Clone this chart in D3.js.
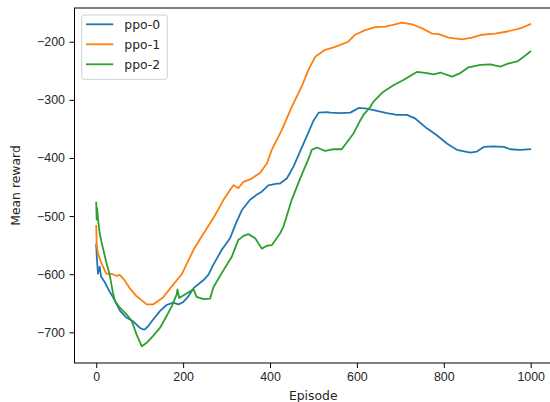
<!DOCTYPE html>
<html>
<head>
<meta charset="utf-8">
<script src="https://d3js.org/d3.v7.min.js"></script>
<style>
  body { margin: 0; background: #fff; }
  svg { font-family: "DejaVu Sans", sans-serif; }
  .axis text { font-size: 12.4px; fill: #262626; }
  .axis path { display: none; }
  .axis line { stroke: #000; stroke-width: 1; }
</style>
</head>
<body>
<svg width="550" height="402"></svg>
<script>

// series names and colours
var seriesNames = ["ppo-0", "ppo-1", "ppo-2"];
var seriesColors = ["#1f77b4", "#ff7f0e", "#2ca02c"];

// tick labels
var xTicks = [0, 200, 400, 600, 800, 1000];
var yTicks = [-700, -600, -500, -400, -300, -200];

// ppo-0 (episode, mean reward)
var ppo0 = [
  [0, -549], [1, -567], [4, -599], [8, -587], [11, -604], [19, -613], [31, -630],
  [39, -640], [55, -663], [70, -675], [85, -681], [100, -692], [108, -695], [112, -695],
  [120, -689], [131, -678], [147, -663], [162, -653], [177, -649], [189, -652],
  [200, -648], [212, -638], [224, -624], [247, -610], [258, -601], [270, -583],
  [289, -558], [308, -538], [323, -510], [335, -490], [354, -472], [370, -463],
  [381, -458], [396, -447], [416, -444], [423, -444], [439, -435], [454, -415],
  [469, -389], [485, -362], [500, -336], [512, -322], [531, -321], [539, -322],
  [561, -323], [585, -322], [604, -314], [623, -315], [646, -319], [669, -323],
  [692, -326], [715, -326], [734, -332], [761, -349], [784, -361], [807, -375],
  [830, -386], [861, -391], [876, -389], [892, -381], [915, -380], [938, -381],
  [953, -385], [976, -386], [999, -385]
];

// ppo-1
var ppo1 = [
  [0, -517], [1, -550], [4, -564], [11, -579], [23, -599], [38, -600], [47, -603],
  [54, -601], [65, -610], [77, -624], [93, -638], [105, -645], [116, -652], [131, -652],
  [142, -646], [154, -640], [162, -632], [178, -617], [197, -600], [224, -558],
  [247, -530], [270, -503], [293, -472], [308, -455], [316, -447], [327, -452],
  [339, -441], [354, -437], [377, -426], [393, -409], [404, -386], [412, -374],
  [427, -352], [450, -312], [473, -277], [488, -249], [504, -226], [527, -214],
  [550, -209], [580, -200], [596, -188], [619, -180], [642, -175], [665, -174],
  [688, -170], [704, -167], [727, -170], [750, -177], [773, -186], [788, -187],
  [811, -193], [842, -196], [865, -193], [888, -188], [918, -186], [949, -182],
  [980, -176], [999, -170]
];

// ppo-2
var ppo2 = [
  [0, -477], [1, -506], [2, -486], [4, -504], [8, -530], [12, -544], [23, -579],
  [31, -601], [38, -630], [43, -646], [55, -658], [70, -669], [82, -681], [93, -704],
  [105, -724], [116, -718], [131, -706], [147, -692], [162, -672], [174, -655],
  [185, -635], [187, -626], [191, -641], [204, -635], [224, -626], [231, -639],
  [247, -643], [262, -642], [270, -622], [293, -593], [312, -570], [327, -541],
  [339, -534], [350, -531], [366, -538], [381, -556], [393, -551], [404, -550],
  [423, -530], [431, -518], [450, -472], [469, -436], [492, -395], [496, -386],
  [508, -382], [527, -388], [546, -385], [565, -385], [581, -369], [592, -358],
  [608, -335], [615, -326], [631, -312], [638, -303], [661, -286], [684, -275],
  [707, -266], [738, -252], [761, -254], [777, -256], [792, -253], [819, -260],
  [838, -254], [857, -244], [884, -240], [907, -239], [930, -243], [946, -238],
  [969, -234], [984, -226], [999, -217]
];

var allSeries = [ppo0, ppo1, ppo2];

var svg = d3.select("svg");

// axes box
var box = {left: 74.5, top: 8, right: 552, bottom: 363};

var x = d3.scaleLinear()
    .domain([-50, 1049])
    .range([box.left, box.right]);

var y = d3.scaleLinear()
    .domain([-752.75, -142])
    .range([box.bottom, box.top]);

// draw lines
var line = d3.line()
    .x(function(d) { return x(d[0]); })
    .y(function(d) { return y(d[1]); });

allSeries.forEach(function(s, i) {
  svg.append("path")
    .datum(s)
    .attr("fill", "none")
    .attr("stroke", seriesColors[i])
    .attr("stroke-width", 1.8)
    .attr("stroke-linejoin", "round")
    .attr("stroke-linecap", "square")
    .attr("d", line);
});

// frame
svg.append("rect")
  .attr("x", box.left)
  .attr("y", box.top)
  .attr("width", box.right - box.left)
  .attr("height", box.bottom - box.top)
  .attr("fill", "none")
  .attr("stroke", "#000")
  .attr("stroke-width", 1);

// x axis
svg.append("g")
  .attr("class", "axis")
  .attr("transform", "translate(0," + box.bottom + ")")
  .call(d3.axisBottom(x).tickValues(xTicks).tickSize(5).tickPadding(4.5).tickFormat(d3.format("d")));

// y axis
svg.append("g")
  .attr("class", "axis")
  .attr("transform", "translate(" + box.left + ",0)")
  .call(d3.axisLeft(y).tickValues(yTicks).tickSize(5).tickPadding(4.5).tickFormat(d3.format("d")));

// axis labels
svg.append("text")
  .attr("x", (box.left + box.right) / 2)
  .attr("y", 400)
  .attr("text-anchor", "middle")
  .attr("font-size", "12.4px")
  .attr("fill", "#262626")
  .text("Episode");

svg.append("text")
  .attr("transform", "rotate(-90)")
  .attr("x", -(box.top + box.bottom) / 2)
  .attr("y", 19.5)
  .attr("text-anchor", "middle")
  .attr("font-size", "12.4px")
  .attr("fill", "#262626")
  .text("Mean reward");

// legend
var legend = svg.append("g");

legend.append("rect")
  .attr("x", 81.7)
  .attr("y", 15)
  .attr("width", 85.6)
  .attr("height", 64.3)
  .attr("rx", 2.5)
  .attr("fill", "#fff")
  .attr("fill-opacity", 0.8)
  .attr("stroke", "#d0d0d0")
  .attr("stroke-width", 1);

seriesNames.forEach(function(name, i) {
  var ly = 24.3 + i * 20;
  legend.append("line")
    .attr("x1", 86)
    .attr("x2", 113.3)
    .attr("y1", ly)
    .attr("y2", ly)
    .attr("stroke", seriesColors[i])
    .attr("stroke-width", 1.8);
  legend.append("text")
    .attr("x", 124.3)
    .attr("y", ly + 4.5)
    .attr("font-size", "12.4px")
    .attr("fill", "#262626")
    .text(name);
});

</script>
</body>
</html>
